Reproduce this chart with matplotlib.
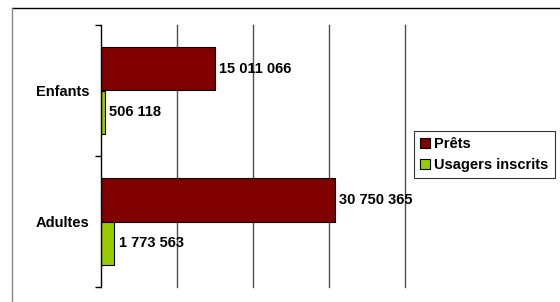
import numpy as np
import matplotlib.pyplot as plt
from matplotlib.lines import Line2D

categories = ['Enfants', 'Adultes']
prets = [15011066, 30750365]
usagers = [506118, 1773563]
labels_prets = ['15 011 066', '30 750 365']
labels_usagers = ['506 118', '1 773 563']

plt.rcParams['font.family'] = ['Liberation Sans', 'DejaVu Sans']
plt.rcParams['font.weight'] = 'bold'
plt.rcParams['font.size'] = 10.5

fig = plt.figure(figsize=(5.6, 3.02), dpi=100)
ax = fig.add_axes([101/560, 15/302, 304/560, 262/302])

y = np.arange(len(categories))
h = 0.33
ax.barh(y - h/2, prets, height=h, color='#800000', edgecolor='black', linewidth=0.8, label='Prêts')
ax.barh(y + h/2, usagers, height=h, color='#99cc00', edgecolor='black', linewidth=0.8, label='Usagers inscrits')

for i in range(len(categories)):
    ax.annotate(labels_prets[i], (prets[i], y[i] - h/2), xytext=(3, 0), textcoords='offset points',
                va='center', ha='left', fontweight='bold')
    ax.annotate(labels_usagers[i], (usagers[i], y[i] + h/2), xytext=(3, 0), textcoords='offset points',
                va='center', ha='left', fontweight='bold')

ax.set_xlim(0, 40000000)
ax.set_ylim(-0.5, 1.5)
ax.invert_yaxis()
ax.set_xticks([10000000, 20000000, 30000000, 40000000])
ax.xaxis.grid(True, color='#505050', linewidth=1)
for gl in ax.get_xgridlines():
    gl.set_clip_on(False)
ax.set_axisbelow(True)
ax.tick_params(axis='x', length=0, labelbottom=False)
ax.set_yticks([-0.5, 0.5, 1.5])
ax.set_yticklabels([])
ax.set_yticks(y, minor=True)
ax.set_yticklabels(categories, minor=True, fontweight='bold')
ax.tick_params(axis='y', which='major', length=4, width=1, direction='out')
ax.tick_params(axis='y', which='minor', length=0, pad=8)
for s in ['top', 'right', 'bottom']:
    ax.spines[s].set_visible(False)
ax.spines['left'].set_linewidth(1)

# outer frame lines
fig.add_artist(Line2D([12/560, 1], [1 - 8/302, 1 - 8/302], color='black', linewidth=1))
fig.add_artist(Line2D([12/560, 12/560], [0, 1 - 8/302], color='#888888', linewidth=1))

leg = fig.legend(loc='upper left', bbox_to_anchor=(414/560, 1 - 131/302), frameon=True,
                 fancybox=False, edgecolor='black', handlelength=0.7, handleheight=0.7,
                 handletextpad=0.3, borderpad=0.4, labelspacing=0.5, borderaxespad=0,
                 prop={'weight': 'bold', 'size': 10.5})
leg.get_frame().set_linewidth(0.8)

fig.savefig('out.png', dpi=100)
